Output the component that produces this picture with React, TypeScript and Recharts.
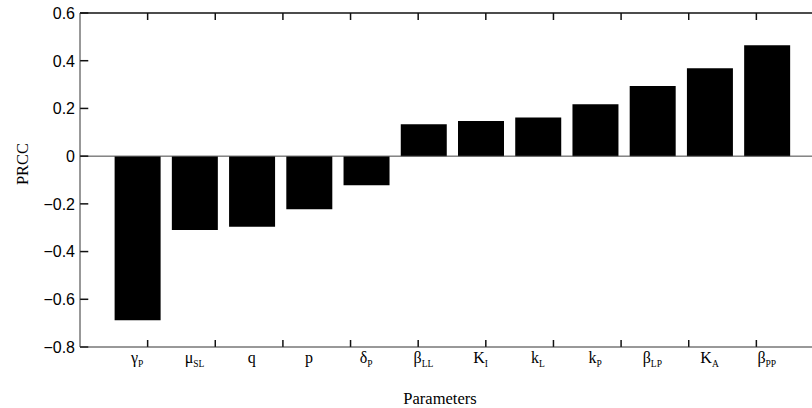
import { Bar, BarChart, ReferenceLine, XAxis, YAxis } from 'recharts';

const params = ['gP', 'muSL', 'q', 'p', 'dP', 'bLL', 'KI', 'kL', 'kP', 'bLP', 'KA', 'bPP'];
const symbols = ['γ', 'μ', 'q', 'p', 'δ', 'β', 'K', 'k', 'k', 'β', 'K', 'β'];
const subscripts = ['P', 'SL', '', '', 'P', 'LL', 'I', 'L', 'P', 'LP', 'A', 'PP'];
const prcc = [-0.688, -0.31, -0.296, -0.223, -0.122, 0.134, 0.147, 0.162, 0.217, 0.294, 0.368, 0.465];
const yTicks = [-0.8, -0.6, -0.4, -0.2, 0, 0.2, 0.4, 0.6];

type Row = { param: string; symbol: string; sub: string; prcc: number };

const data: Row[] = params.map((param, i) => ({
  param,
  symbol: symbols[i],
  sub: subscripts[i],
  prcc: prcc[i],
}));

const W = 824;
const H = 408;
const TOP = 13;
const LEFT = 80;
const X_AXIS_H = 61;
const PLOT_W = W - LEFT;
const PLOT_H = H - TOP - X_AXIS_H;
const Y_MIN = -0.8;
const Y_MAX = 0.6;
// the category axis is laid out like matlab's bar(): xlim [0, n+1], bars at 1..n
const X_UNITS = params.length + 1;
const PAD = PLOT_W / X_UNITS / 2;
const TICK = 7;
const TICK_X = (TICK * X_UNITS) / PLOT_W;
const TICK_Y = (TICK * (Y_MAX - Y_MIN)) / PLOT_H;
const AXIS = '#333';
const TICK_COLOR = '#111';
const SERIF = '"Liberation Serif", "Times New Roman", serif';
const SANS = '"Liberation Sans", Arial, sans-serif';

function fmt(v: number) {
  if (v === 0) return '0';
  const s = Math.abs(v).toFixed(1);
  return v < 0 ? '\u2212' + s : s;
}

function YTick(props: any) {
  const { x, y, payload } = props;
  return (
    <text x={x} y={y} dy={5.8} textAnchor="end" fontFamily={SANS} fontSize={16} fill="#000">
      {fmt(payload.value)}
    </text>
  );
}

function BottomTick(props: any) {
  const { x, y, index } = props;
  const row = data[index];
  return (
    <text x={x} y={y} textAnchor="middle" fontFamily={SERIF} fontSize={16} fill="#000">
      <tspan>{row.symbol}</tspan>
      {row.sub ? (
        <tspan fontSize={9.5} dy={4}>
          {row.sub}
        </tspan>
      ) : null}
    </text>
  );
}

export default function App() {
  const xPos = params.map((_, i) => i + 1);
  return (
    <div
      style={{
        position: 'absolute',
        left: 0,
        top: 0,
        width: 812,
        height: 408,
        overflow: 'hidden',
        background: '#fff',
      }}
    >
      <BarChart width={W} height={H} data={data} margin={{ top: TOP, right: 0, bottom: 0, left: 0 }}>
        <XAxis
          dataKey="param"
          xAxisId="bottom"
          orientation="bottom"
          height={X_AXIS_H}
          padding={{ left: PAD, right: PAD }}
          axisLine={{ stroke: AXIS }}
          tickLine={false}
          tickSize={0}
          tickMargin={15.5}
          interval={0}
          tick={<BottomTick />}
        />
        <XAxis xAxisId="num" type="number" domain={[0, X_UNITS]} hide allowDataOverflow />
        <YAxis
          type="number"
          width={LEFT}
          domain={[Y_MIN, Y_MAX]}
          ticks={yTicks}
          interval={0}
          axisLine={{ stroke: AXIS }}
          tickLine={false}
          tickSize={0}
          tickMargin={5}
          tick={<YTick />}
        />
        <ReferenceLine y={0} xAxisId="num" stroke="#444" />
        <ReferenceLine y={Y_MAX} xAxisId="num" stroke={TICK_COLOR} strokeWidth={1.5} ifOverflow="visible" />
        {yTicks.map((v) => (
          <ReferenceLine
            key={'y' + v}
            xAxisId="num"
            stroke={TICK_COLOR}
            strokeWidth={1.5}
            ifOverflow="visible"
            segment={[
              { x: 0, y: v },
              { x: TICK_X, y: v },
            ]}
          />
        ))}
        {xPos.map((u) => (
          <ReferenceLine
            key={'b' + u}
            xAxisId="num"
            stroke={TICK_COLOR}
            strokeWidth={1.5}
            ifOverflow="visible"
            segment={[
              { x: u, y: Y_MIN },
              { x: u, y: Y_MIN + TICK_Y },
            ]}
          />
        ))}
        {xPos.map((u) => (
          <ReferenceLine
            key={'t' + u}
            xAxisId="num"
            stroke={TICK_COLOR}
            strokeWidth={1.5}
            ifOverflow="visible"
            segment={[
              { x: u, y: Y_MAX },
              { x: u, y: Y_MAX - TICK_Y },
            ]}
          />
        ))}
        <Bar dataKey="prcc" xAxisId="bottom" fill="#000" barSize={46} isAnimationActive={false} />
        <text
          x={22}
          y={164}
          transform="rotate(-90 22 164)"
          textAnchor="middle"
          dominantBaseline="central"
          fontFamily={SERIF}
          fontSize={16.5}
          fill="#000"
        >
          PRCC
        </text>
        <text x={440} y={404} textAnchor="middle" fontFamily={SERIF} fontSize={16.5} fill="#000">
          Parameters
        </text>
      </BarChart>
    </div>
  );
}
